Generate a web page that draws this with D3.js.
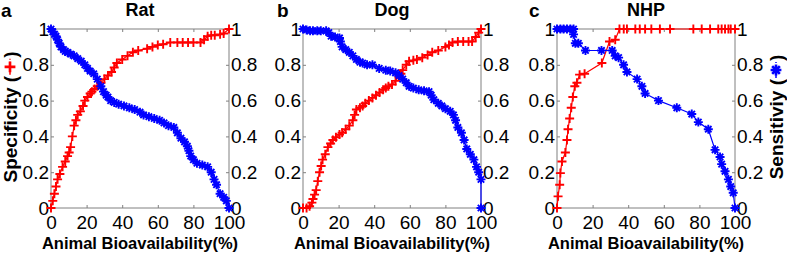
<!DOCTYPE html>
<html>
<head>
<meta charset="utf-8">
<script src="https://cdn.jsdelivr.net/npm/d3@7"></script>
<style>
  body { margin: 0; background: #fff; }
  svg { display: block; font-family: "Liberation Sans", Arial, Helvetica, sans-serif; }
</style>
</head>
<body>
<div id="chart"></div>
<script>
// panel names, letters
var panelNames = ["Rat", "Dog", "NHP"];
var panelLetters = ["a", "b", "c"];
var xTicks = [0, 20, 40, 60, 80, 100];
var yTicks = [0, 0.2, 0.4, 0.6, 0.8, 1];

// specificity (red, +) : [bioavailability %, value]
var ratSpec = [[0,0],[1,0.04],[1.9,0.08],[2.8,0.12],[3.7,0.16],[5,0.19],[6.5,0.23],[8,0.26],[9.3,0.29],[10.2,0.31],[11,0.34],[12,0.40],[13,0.46],[14,0.49],[15,0.52],[16.5,0.54],[18,0.57],[19,0.60],[20.5,0.62],[22,0.64],[23,0.65],[24.5,0.665],[26,0.68],[28,0.70],[30,0.72],[32,0.74],[34,0.76],[35.5,0.785],[37,0.81],[40,0.83],[43,0.85],[46,0.87],[49,0.88],[54,0.89],[57,0.90],[60,0.91],[63,0.915],[67,0.925],[71,0.925],[74,0.925],[77,0.925],[80,0.925],[84,0.925],[86,0.94],[88,0.96],[90,0.965],[92,0.965],[95,0.97],[97,0.975],[100,1]];
var dogSpec = [[0,0],[2,0],[3.7,0.01],[5,0.03],[5.6,0.05],[6.5,0.075],[7.4,0.10],[8.3,0.15],[9.3,0.20],[10.2,0.235],[11,0.27],[12.5,0.30],[14,0.34],[15.5,0.36],[16.8,0.38],[18.5,0.395],[20.5,0.41],[22,0.42],[24,0.44],[26,0.46],[28,0.49],[29,0.52],[30,0.55],[32,0.56],[33.5,0.57],[35,0.585],[37,0.60],[39,0.615],[41,0.63],[43,0.645],[45,0.66],[46.5,0.67],[48,0.68],[50,0.69],[52,0.71],[54,0.735],[55,0.75],[56,0.77],[58,0.80],[59.6,0.82],[62,0.825],[64,0.83],[67,0.84],[70,0.855],[72.6,0.87],[76,0.88],[80,0.90],[82,0.91],[84,0.925],[87,0.93],[90,0.93],[93,0.93],[95,0.93],[97,0.955],[98.7,0.98],[100,1]];
var nhpSpec = [[0,0],[0.6,0.065],[1.5,0.13],[1.9,0.195],[2.8,0.26],[4.7,0.31],[5.6,0.38],[6.2,0.44],[7.1,0.50],[8,0.56],[8.9,0.62],[10,0.68],[11.2,0.70],[12.7,0.745],[15.5,0.75],[25.2,0.81],[29.5,0.93],[32.7,0.94],[35.1,1],[37.5,1],[39.3,1],[44,1],[46.5,1],[49.5,1],[53,1],[57.8,1],[63.5,1],[76.6,1],[81.3,1],[86,1],[90.6,1],[92.5,1],[94.4,1],[96.3,1],[97.6,1],[100,1]];

// sensitivity (blue, *)
var ratSens = [[0,1],[1,0.985],[2,0.97],[2.8,0.96],[3.7,0.94],[4.6,0.92],[5.6,0.90],[7,0.885],[8,0.875],[9.3,0.87],[11,0.86],[13,0.85],[15,0.835],[17,0.82],[19,0.80],[20.5,0.78],[22,0.765],[24,0.75],[26,0.72],[28,0.68],[29.5,0.65],[31,0.63],[32,0.62],[33.5,0.60],[35.5,0.59],[38,0.58],[41,0.57],[44,0.56],[47,0.55],[50,0.535],[52,0.52],[55,0.51],[58,0.50],[61,0.49],[63.5,0.475],[66,0.46],[69,0.45],[71,0.42],[73,0.39],[75,0.37],[76.6,0.345],[77.5,0.32],[78.5,0.29],[80,0.27],[82,0.25],[85,0.24],[88,0.23],[90,0.20],[91.6,0.16],[93,0.13],[95,0.08],[97,0.06],[98.5,0.04],[100,0]];
var dogSens = [[0,1],[2,0.995],[4,0.99],[5.6,0.99],[8,0.99],[10,0.99],[13,0.99],[14.5,0.98],[15.8,0.96],[18,0.955],[20.5,0.95],[21,0.93],[22,0.90],[24,0.885],[26,0.87],[28,0.85],[30,0.83],[32,0.815],[33.5,0.81],[36,0.80],[39,0.80],[42.8,0.78],[46.5,0.77],[49,0.765],[52,0.755],[54,0.74],[56,0.72],[58,0.70],[59.6,0.68],[62,0.67],[65,0.66],[68,0.655],[70.8,0.65],[72,0.63],[73.5,0.605],[76,0.585],[78,0.57],[80,0.555],[82.7,0.54],[84.5,0.52],[85.7,0.49],[87,0.45],[89,0.42],[90.5,0.38],[92,0.33],[94,0.30],[96,0.27],[97.5,0.23],[98.7,0.20],[100,0.16],[100,0]];
var nhpSens = [[0,1],[1.9,1],[3.7,1],[5.6,1],[7.5,1],[9.3,1],[9.3,0.97],[10.3,0.92],[12,0.92],[16,0.88],[25,0.88],[31,0.88],[32.7,0.85],[34.6,0.84],[37.4,0.80],[39.3,0.76],[45,0.72],[47.7,0.68],[49.5,0.64],[57,0.60],[67.3,0.56],[75.7,0.525],[79.4,0.48],[85,0.44],[88.8,0.325],[91.6,0.285],[92.5,0.245],[94.4,0.205],[96.3,0.16],[97.6,0.12],[99,0.085],[100,0]];

var specSeries = [ratSpec, dogSpec, nhpSpec];
var sensSeries = [ratSens, dogSens, nhpSens];

var width = 787, height = 254;
var plotLefts = [51, 303, 557];
var plotW = 178, plotTop = 29, plotBottom = 208;
var red = "#ff0000", blue = "#0000ff", boxColor = "#808080";

var plusPath = "M-4.5,0H4.5M0,-4.5V4.5";
var starPath = "M-4.5,0H4.5M0,-4.5V4.5M-3.2,-3.2L3.2,3.2M-3.2,3.2L3.2,-3.2";

var svg = d3.select("#chart").append("svg")
  .attr("width", width)
  .attr("height", height);

function drawPanel(i) {
  var left = plotLefts[i];
  var x = d3.scaleLinear().domain([0, 100]).range([left, left + plotW]);
  var y = d3.scaleLinear().domain([0, 1]).range([plotBottom, plotTop]);
  var g = svg.append("g");

  var fmt = function(d) { return d === 0 ? "0" : d === 1 ? "1" : String(d); };

  function styleAxis(sel) {
    sel.select(".domain").remove();
    sel.selectAll(".tick line").attr("stroke", boxColor);
    sel.selectAll(".tick text").attr("fill", "#000").attr("font-size", 19)
      .attr("font-family", "'Liberation Sans', Arial, sans-serif");
  }

  g.append("g").attr("transform", "translate(" + left + ",0)")
    .call(d3.axisLeft(y).tickValues(yTicks).tickFormat(fmt).tickSizeInner(-3).tickSizeOuter(0).tickPadding(2))
    .call(styleAxis);
  g.append("g").attr("transform", "translate(" + (left + plotW) + ",0)")
    .call(d3.axisRight(y).tickValues(yTicks).tickFormat(fmt).tickSizeInner(-3).tickSizeOuter(0).tickPadding(2))
    .call(styleAxis);
  g.append("g").attr("transform", "translate(0," + plotBottom + ")")
    .call(d3.axisBottom(x).tickValues(xTicks).tickSizeInner(-3).tickSizeOuter(0).tickPadding(8))
    .call(styleAxis);
  g.append("g").attr("transform", "translate(0," + plotTop + ")")
    .call(d3.axisTop(x).tickValues(xTicks).tickFormat("").tickSizeInner(-3).tickSizeOuter(0))
    .call(styleAxis);

  g.append("rect")
    .attr("x", left).attr("y", plotTop)
    .attr("width", plotW).attr("height", plotBottom - plotTop)
    .attr("fill", "none").attr("stroke", boxColor).attr("stroke-width", 1);

  var line = d3.line().x(function(d) { return x(d[0]); }).y(function(d) { return y(d[1]); });

  function series(data, color, marker) {
    g.append("path").datum(data)
      .attr("d", line).attr("fill", "none")
      .attr("stroke", color).attr("stroke-width", 1.2);
    g.selectAll(null).data(data).enter().append("path")
      .attr("transform", function(d) { return "translate(" + x(d[0]) + "," + y(d[1]) + ")"; })
      .attr("d", marker)
      .attr("stroke", color).attr("stroke-width", 1.9).attr("fill", "none");
  }
  series(specSeries[i], red, plusPath);
  series(sensSeries[i], blue, starPath);

  // title, panel letter, x label
  g.append("text").attr("x", left + plotW / 2).attr("y", 16)
    .attr("text-anchor", "middle").attr("font-weight", "bold").attr("font-size", 18)
    .text(panelNames[i]);
  g.append("text").attr("x", [1, 277, 529][i]).attr("y", 17)
    .attr("font-weight", "bold").attr("font-size", 19)
    .text(panelLetters[i]);
  g.append("text").attr("x", left + plotW / 2).attr("y", 249)
    .attr("text-anchor", "middle").attr("font-weight", "bold").attr("font-size", 16.5)
    .text("Animal Bioavailability(%)");
}

for (var i = 0; i < 3; i++) drawPanel(i);

// rotated y labels with inline legend marker
function legendLabel(cx, cy, label, color, marker) {
  var g = svg.append("g").attr("transform", "translate(" + cx + "," + cy + ") rotate(-90)");
  var inner = g.append("g");
  var t1 = inner.append("text").attr("x", 0).attr("y", 0)
    .attr("font-weight", "bold").attr("font-size", 19).attr("dominant-baseline", "central")
    .text(label + " (");
  var len = t1.node().getComputedTextLength();
  inner.append("line").attr("x1", len + 1).attr("x2", len + 17).attr("y1", 0).attr("y2", 0)
    .attr("stroke", color).attr("stroke-width", 1.5).attr("stroke-dasharray", "3,2");
  inner.append("path").attr("transform", "translate(" + (len + 9) + ",0) scale(1.2)")
    .attr("d", marker).attr("stroke", color).attr("stroke-width", 2.2).attr("fill", "none");
  var t2 = inner.append("text").attr("x", len + 18).attr("y", 0)
    .attr("font-weight", "bold").attr("font-size", 19).attr("dominant-baseline", "central")
    .text(")");
  var total = len + 18 + t2.node().getComputedTextLength();
  inner.attr("transform", "translate(" + (-total / 2) + ",0)");
}
legendLabel(10, 117, "Specificity", red, plusPath);
legendLabel(776, 117, "Sensitiviy", blue, starPath);
</script>
</body>
</html>
